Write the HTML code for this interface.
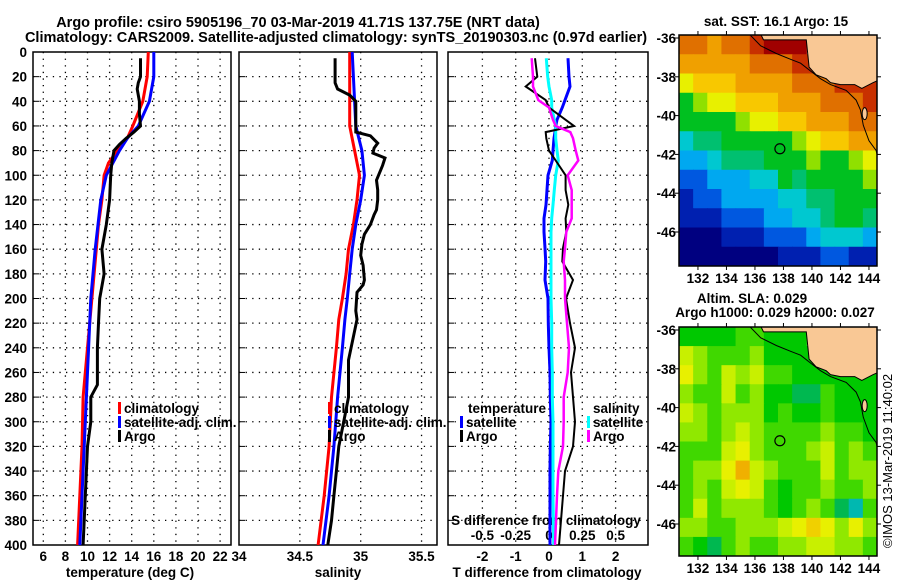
<!DOCTYPE html>
<html><head><meta charset="utf-8"><style>
body{margin:0;background:#fff;}
svg{display:block;font-family:"Liberation Sans",sans-serif;font-weight:bold;}
</style></head><body>
<svg id="s" width="900" height="580" viewBox="0 0 900 580" xmlns="http://www.w3.org/2000/svg">
<rect width="900" height="580" fill="#fff"/>
<text x="298" y="27" font-size="14.5" text-anchor="middle">Argo profile: csiro 5905196_70 03-Mar-2019 41.71S 137.75E (NRT data)</text>
<text x="336" y="42" font-size="14.5" text-anchor="middle">Climatology: CARS2009. Satellite-adjusted climatology: synTS_20190303.nc (0.97d earlier)</text>
<g id="g"></g>
</svg>
<script>
// ---------- data ----------
const tDepthArgo=[5,20,25,30,40,50,60,65,70,75,80,90,100,120,140,160,180,200,220,240,260,270,280,300,320,340,360,380,400];
const tArgo=[14.8,14.8,14.6,14.5,14.7,14.7,14.8,14.2,13.5,12.9,12.4,12.2,12.1,12.0,11.7,11.3,11.5,11.1,11.0,10.9,10.9,10.9,10.3,10.3,10.0,9.9,9.8,9.7,9.6];
const tDepthClim=[0,20,40,60,70,80,90,100,120,140,160,180,200,240,280,320,360,400];
const tClim=[15.5,15.4,15.0,14.1,13.6,12.7,11.9,11.5,11.3,11.0,10.8,10.6,10.4,10.0,9.6,9.5,9.3,9.1];
const tSat=[16.0,16.0,15.6,14.6,13.6,12.9,12.3,11.7,11.2,10.95,10.7,10.5,10.3,10.1,9.9,9.7,9.5,9.3];
const sDepthArgo=[5,25,30,35,40,65,68,74,78,82,86,92,104,112,120,128,132,140,148,156,165,173,185,189,195,210,217,250,280,300,320,340,360,380,400];
const sArgo=[34.79,34.79,34.81,34.91,34.96,34.96,35.08,35.14,35.11,35.10,35.20,35.18,35.13,35.14,35.14,35.13,35.11,35.08,35.03,35.01,35.0,35.02,35.03,35.02,34.97,34.96,34.97,34.90,34.90,34.86,34.82,34.80,34.78,34.76,34.73];
const sDepthClim=[0,40,60,80,100,120,140,160,180,200,217,240,280,320,360,400];
const sClim=[34.91,34.91,34.91,34.95,34.99,34.97,34.94,34.90,34.88,34.85,34.82,34.80,34.76,34.74,34.70,34.65];
const sSat=[34.93,34.95,34.96,35.01,35.03,35.00,34.96,34.93,34.91,34.89,34.87,34.85,34.81,34.78,34.74,34.69];
const dDepth=[5,20,28,39,45,55,60,65,70,80,88,100,112,124,135,146,159,170,185,200,220,240,260,280,300,320,340,360,400];
const dTArgo=[-0.42,-0.35,-0.7,-0.1,0.0,0.5,0.75,-0.1,-0.08,0.0,0.2,0.5,0.5,0.58,0.5,0.52,0.42,0.4,0.72,0.51,0.63,0.78,0.66,0.72,0.78,0.72,0.48,0.42,0.3];
const dTSat=[0.57,0.6,0.63,0.48,0.4,0.24,0.2,0.18,0.15,0.12,0.1,-0.03,-0.06,-0.09,-0.15,-0.15,-0.12,-0.1,-0.12,-0.03,-0.02,0.0,0.03,0.04,0.06,0.04,0.03,0.03,0.03];
const dSArgo=[-0.13,-0.12,-0.12,-0.08,0.0,0.03,0.05,0.16,0.18,0.2,0.22,0.14,0.17,0.17,0.17,0.13,0.12,0.11,0.12,0.12,0.135,0.15,0.14,0.11,0.11,0.105,0.07,0.06,0.045];
const dSSat=[-0.02,-0.01,0.0,0.02,0.02,0.04,0.05,0.05,0.05,0.06,0.07,0.05,0.04,0.03,0.02,0.015,0.015,0.015,0.015,0.015,0.02,0.02,0.025,0.025,0.03,0.03,0.03,0.03,0.035];
const depthTicks=[0,20,40,60,80,100,120,140,160,180,200,220,240,260,280,300,320,340,360,380,400];
const tTicks=[6,8,10,12,14,16,18,20,22];
const sTicks=[34,34.5,35,35.5];
const sTickLbl=["34","34.5","35","35.5"];
const dTTicks=[-2,-1,0,1,2];
const dSTicks=[-0.5,-0.25,0,0.25,0.5];
const dSTickLbl=["-0.5","-0.25","0","0.25","0.5"];
const lonTicks=[132,134,136,138,140,142,144];
const latTicks=[-36,-38,-40,-42,-44,-46];
const argoLon=137.75, argoLat=-41.71;
// SST grid, rows lat -36..-48 (1 deg), cols lon 131..145; null = land
const sstGrid=[
[17.6,17.6,17.4,17.5,17.8,18.3,18.6,18.6,18.8,null,null,null,null,null],
[17.2,17.3,17.2,17.2,17.4,17.6,17.8,17.9,18.0,18.2,18.3,null,null,null],
[16.4,16.5,16.7,16.8,17.0,17.1,17.3,17.4,17.6,17.7,17.9,18.2,18.4,18.3],
[15.6,15.9,16.2,16.4,16.5,16.6,16.9,17.0,17.1,17.3,17.6,17.8,17.9,18.0],
[15.3,15.3,15.5,15.5,16.0,16.3,16.4,16.6,16.9,17.0,17.1,17.2,17.5,17.6],
[14.9,15.1,15.2,15.4,15.5,15.5,15.4,15.6,16.0,16.4,16.6,16.8,17.0,17.1],
[14.5,14.5,14.8,15.0,15.0,15.2,15.4,15.4,15.6,15.9,15.4,15.4,15.8,16.2],
[14.1,14.1,14.3,14.5,14.5,14.7,14.9,15.4,15.2,15.4,15.4,15.4,15.4,15.7],
[13.6,13.8,14.0,14.3,14.4,14.5,14.5,14.7,14.9,15.2,15.2,15.3,15.3,15.3],
[13.2,13.4,13.5,13.8,14.0,14.0,14.2,14.4,14.7,14.9,15.2,15.3,15.3,15.1],
[12.8,12.9,13.0,13.2,13.4,13.5,13.7,13.9,14.0,14.2,14.7,14.9,14.7,14.3],
[12.6,12.6,12.6,12.8,12.9,13.0,13.0,13.2,13.4,13.4,13.7,13.7,13.5,13.3]];
const slaGrid=[
[0,0,0,0,0.02,0.03,0,0,0,null,null,null,null,null],
[0.08,0.05,0.02,0.03,0.04,0.05,0,0,0,0,0,null,null,null],
[0.1,0.06,0.02,0.08,0.05,0.08,0.03,0.02,0,0,0,0,0,0],
[0.05,0.04,0.02,0.07,0.03,0.06,0,0,-0.02,-0.02,0.02,0,0,0],
[0.07,0.06,0.02,0.05,0.05,0.05,0.01,0.02,0,0,0.02,0,0,0],
[0.05,0.05,0.03,0.06,0.07,0.05,0.03,0.02,0.03,0.03,0.06,0.03,0.03,0],
[0.03,0.03,0.04,0.08,0.1,0.06,0.03,0.04,0.04,0.05,0.08,0.04,0.05,0.02],
[0.03,0.05,0.06,0.1,0.13,0.08,0.05,0.03,0.03,0.04,0.08,0.03,0.05,0.05],
[0.02,0.06,0.04,0.08,0.1,0.07,0.03,0,0.02,0.03,0.05,0.02,0.02,0.06],
[0.03,0.07,0.03,0.05,0.06,0.05,0.03,0,0.03,0.05,0.03,-0.03,-0.08,0.03],
[0.05,0.06,0.03,0.03,0.05,0.06,0.06,0.07,0.1,0.12,0.1,0.06,0.1,0.06],
[0.02,0.01,-0.03,0.03,0.06,0.03,0.04,0.05,0.06,0.08,0.07,0.05,0.06,0.04]];
const landLon=[136.4,136.6,139.6,139.8,140.3,141.0,141.3,142.0,143.0,143.5,144.3,144.6,144.6];
const landLat=[-35.8,-36.1,-36.1,-37.5,-37.9,-38.1,-38.3,-38.4,-38.4,-38.6,-38.3,-38.2,-35.8];
const isoLon=[135.6,136.4,137.5,138.5,139.2,139.9,140.6,141.3,142.4,143.1,143.4,143.6,144.0,144.5,144.6];
const isoLat=[-35.8,-36.4,-36.8,-37.1,-37.3,-37.7,-38.1,-38.4,-38.7,-39.2,-39.7,-40.5,-41.3,-41.8,-42.1];

// ---------- helpers ----------
const NS="http://www.w3.org/2000/svg", G=document.getElementById('g');
function mk(tag,at,par){const e=document.createElementNS(NS,tag);for(const k in at)e.setAttribute(k,at[k]);(par||G).appendChild(e);return e;}
function txt(x,y,s,size,anchor,par){const e=mk('text',{x:x,y:y,'font-size':size,'text-anchor':anchor||'middle'},par);e.textContent=s;return e;}
const Y0=52,Y1=545;
const yD=d=>Y0+d*(Y1-Y0)/400;
const xT=t=>43.3+(t-6)*11.05;
const xS=s=>239+(s-34)*121.7;
const xDT=v=>549+v*33.3;
const xDS=v=>549+v*133.3;
const P1={x0:33,x1:231},P2={x0:239,x1:437},P3={x0:448,x1:648};

function panel(P,vgrid,name){
  const g=mk('g',{});
  
  
  depthTicks.forEach(d=>{if(d>0&&d<400){mk('line',{x1:P.x0,x2:P.x1,y1:yD(d),y2:yD(d),stroke:'#000','stroke-width':1.3,'stroke-dasharray':'1.3 5.3'},g);}
    mk('line',{x1:P.x0,x2:P.x0+6,y1:yD(d),y2:yD(d),stroke:'#000','stroke-width':1},g);});
  vgrid.forEach(x=>{if(x>P.x0+2&&x<P.x1-2)mk('line',{x1:x,x2:x,y1:Y0,y2:Y1,stroke:'#000','stroke-width':1.3,'stroke-dasharray':'1.3 5.3'},g);});
  mk('rect',{x:P.x0,y:Y0,width:P.x1-P.x0,height:Y1-Y0,fill:'none',stroke:'#000','stroke-width':1.5},g);
  return g;
}
function line(xs,ds,xf,color,name,w){
  const pts=xs.map((v,i)=>xf(v).toFixed(1)+','+yD(ds[i]).toFixed(1)).join(' ');
  const p=mk('polyline',{points:pts,fill:'none',stroke:color,'stroke-width':w||3,'stroke-linejoin':'miter'});
  
  
}
panel(P1,tTicks.map(xT),'temperature-panel');
panel(P2,sTicks.map(xS),'salinity-panel');
panel(P3,dTTicks.map(xDT),'difference-panel');
depthTicks.forEach(d=>{const t=txt(27,yD(d)+5,String(d),13.5,'end');});
tTicks.forEach(t=>{const e=txt(xT(t),561,String(t),13.5);});
sTicks.forEach((s,i)=>{const e=txt(xS(s),561,sTickLbl[i],13.5);});
dTTicks.forEach(v=>{const e=txt(xDT(v),561,String(v),13.5);});
dSTicks.forEach((v,i)=>{const e=txt(xDS(v),540,dSTickLbl[i],13.5);});
let e;
e=txt(130,577,'temperature (deg C)',13.5);
e=txt(338,577,'salinity',13.5);
e=txt(547,577,'T difference from climatology',13.5);
e=txt(546,525,'S difference from climatology',13.5);

line(tClim,tDepthClim,xT,'#f00','temp-climatology-line');
line(tSat,tDepthClim,xT,'#00f','temp-satellite-line');
line(tArgo,tDepthArgo,xT,'#000','temp-argo-line');
line(sClim,sDepthClim,xS,'#f00','sal-climatology-line');
line(sSat,sDepthClim,xS,'#00f','sal-satellite-line');
line(sArgo,sDepthArgo,xS,'#000','sal-argo-line');
line(dTSat,dDepth,xDT,'#00f','tdiff-satellite-line');
line(dSSat,dDepth,xDS,'#0ff','sdiff-satellite-line');
line(dTArgo,dDepth,xDT,'#000','tdiff-argo-line',2);
line(dSArgo,dDepth,xDS,'#f0f','sdiff-argo-line',2.5);

function legend(x,y,items,name){
  const g=mk('g',{});
  items.forEach((it,i)=>{mk('rect',{x:x,y:y+i*14-11,width:3,height:12,fill:it[1]},g);txt(x+6,y+i*14,it[0],13.5,'start',g);});
}
legend(118,413,[['climatology','#f00'],['satellite-adj. clim.','#00f'],['Argo','#000']],'temperature-legend');
legend(328,413,[['climatology','#f00'],['satellite-adj. clim.','#00f'],['Argo','#000']],'salinity-legend');
e=txt(468,413,'temperature',13.5,'start');
e=txt(593,413,'salinity',13.5,'start');
legend(460,427,[['satellite','#00f'],['Argo','#000']],'tdiff-legend');
legend(587,427,[['satellite','#0ff'],['Argo','#f0f']],'sdiff-legend');

// ---------- maps ----------
const M={x0:679,x1:877,lon0:130.67,pxLon:14.25,pxLat:19.4};
function sstColor(v){
  const st=[[12.6,'#000080'],[13.2,'#0020b0'],[13.7,'#0058e0'],[14.2,'#00a8f0'],[14.6,'#00c8d0'],[15.0,'#00c070'],[15.3,'#00c020'],[15.7,'#90e000'],[16.1,'#e8f000'],[16.5,'#f8c800'],[17.0,'#f0a000'],[17.5,'#e07000'],[18.0,'#c83000'],[18.5,'#a00000']];
  let c=st[0][1];for(const s of st){if(v>=s[0]-0.001)c=s[1];}return c;}
function slaColor(v){
  const st=[[-0.1,'#00b8b0'],[-0.05,'#00b850'],[-0.01,'#00c800'],[0.02,'#40d800'],[0.045,'#90e800'],[0.07,'#c8f000'],[0.09,'#e8f000'],[0.115,'#f0d000'],[0.13,'#f0b000']];
  let c=st[0][1];for(const s of st){if(v>=s[0]-0.001)c=s[1];}return c;}
function map(yTop,yBot,lat36y,grid,cf,name){
  const g=mk('g',{});
  const xL=l=>M.x0+(l-M.lon0)*M.pxLon, yL=l=>lat36y+(-36-l)*M.pxLat;
  const clip='c'+name;const cp=mk('clipPath',{id:clip},g);mk('rect',{x:M.x0,y:yTop,width:M.x1-M.x0,height:yBot-yTop},cp);
  const cg=mk('g',{'clip-path':'url(#'+clip+')'},g);
  mk('rect',{x:M.x0,y:yTop,width:M.x1-M.x0,height:yBot-yTop,fill:'#f9c895'},cg);
  const nr=grid.length, nc=grid[0].length;
  const cw=(M.x1-M.x0)/nc, ch=(yBot-yTop)/nr;
  grid.forEach((row,r)=>row.forEach((v,c)=>{ if(v===null)return;
    const cell=mk('rect',{x:M.x0+c*cw,y:yTop+r*ch,width:cw+0.6,height:ch+0.6,fill:cf(v)},cg);
    
    
  }));
  const lp=landLon.map((l,i)=>xL(l).toFixed(1)+','+yL(landLat[i]).toFixed(1)).join(' ')+' '+xL(146)+','+yL(-34)+' '+xL(136.4)+','+yL(-34);
  const land=mk('polygon',{points:lp,fill:'#f9c895',stroke:'#000','stroke-width':1},cg);
  
  const iso=mk('polyline',{points:isoLon.map((l,i)=>xL(l).toFixed(1)+','+yL(isoLat[i]).toFixed(1)).join(' '),fill:'none',stroke:'#000','stroke-width':1},cg);
  
  mk('ellipse',{cx:xL(143.7),cy:yL(-39.9),rx:2.5,ry:6,fill:'#f9c895',stroke:'#000','stroke-width':1},cg);
  const ci=mk('circle',{cx:xL(argoLon),cy:yL(argoLat),r:5,fill:'none',stroke:'#000','stroke-width':1.2},g);
  
  mk('rect',{x:M.x0,y:yTop,width:M.x1-M.x0,height:yBot-yTop,fill:'none',stroke:'#000','stroke-width':1.5},g);
  lonTicks.forEach(l=>{mk('line',{x1:xL(l),x2:xL(l),y1:yTop,y2:yTop-4,stroke:'#000'},g);mk('line',{x1:xL(l),x2:xL(l),y1:yBot,y2:yBot+4,stroke:'#000'},g);
    const t=txt(xL(l),yBot+17,String(l),13.5,'middle',g);});
  latTicks.forEach(l=>{mk('line',{x1:M.x1,x2:M.x1+4,y1:yL(l),y2:yL(l),stroke:'#000'},g);mk('line',{x1:M.x0,x2:M.x0-4,y1:yL(l),y2:yL(l),stroke:'#000'},g);
    const t=txt(M.x0-3,yL(l)+5,String(l),13.5,'end',g);});
}
map(35,266,38,sstGrid,sstColor,'sst-map');
map(327,556,330,slaGrid,slaColor,'sla-map');
e=txt(776,26,'sat. SST: 16.1 Argo: 15',13.5);
e=txt(752,303,'Altim. SLA: 0.029',13.5);
e=txt(775,317,'Argo h1000: 0.029 h2000: 0.027',13.5);
e=txt(0,0,'©IMOS 13-Mar-2019 11:40:02',13,'middle');
e.setAttribute('transform','translate(892,461) rotate(-90)');e.setAttribute('font-weight','normal');

</script>
</body></html>
